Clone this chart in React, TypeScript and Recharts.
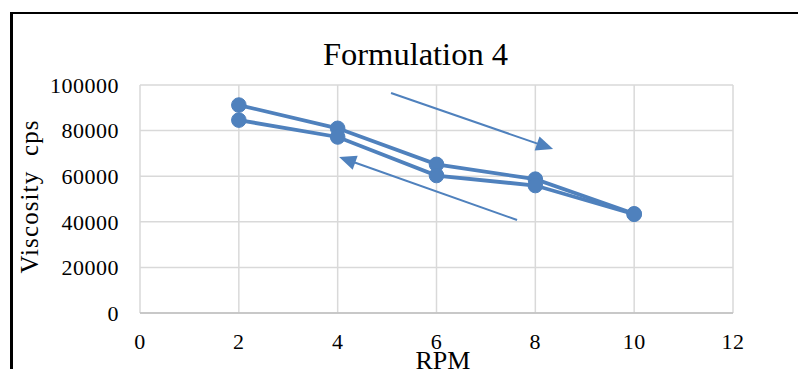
import React from 'react';
import { LineChart, Line, XAxis, YAxis, CartesianGrid, ReferenceLine } from 'recharts';

const rpm = [2, 4, 6, 8, 10];
const viscosityUp = [91200, 81000, 65200, 58700, 43500];
const viscosityDown = [84600, 77200, 60300, 55900, 43300];
const xTicks = [0, 2, 4, 6, 8, 10, 12];
const yTicks = [0, 20000, 40000, 60000, 80000, 100000];
const arrowUp = [{ x: 5.08, y: 96500 }, { x: 8.36, y: 71900 }];
const arrowDown = [{ x: 7.63, y: 40800 }, { x: 4.03, y: 68400 }];

const data = rpm.map((r, i) => ({ rpm: r, up: viscosityUp[i], down: viscosityDown[i] }));

const COLOR = '#4f81bd';
const FONT = 'Liberation Serif, Times New Roman, serif';

const Arrow = (p: any) => {
  const { x1, y1, x2, y2 } = p;
  if ([x1, y1, x2, y2].some((v) => typeof v !== 'number' || isNaN(v))) return null;
  const dx = x2 - x1;
  const dy = y2 - y1;
  const len = Math.sqrt(dx * dx + dy * dy);
  const ux = dx / len;
  const uy = dy / len;
  const hl = 17;
  const hw = 7.5;
  const bx = x2 - ux * hl;
  const by = y2 - uy * hl;
  const pts = `${x2},${y2} ${bx - uy * hw},${by + ux * hw} ${bx + uy * hw},${by - ux * hw}`;
  return (
    <g>
      <line x1={x1} y1={y1} x2={bx + ux * 2} y2={by + uy * 2} stroke={COLOR} strokeWidth={2} />
      <polygon points={pts} fill={COLOR} />
    </g>
  );
};

const YLabel = (props: any) => {
  const vb = props.viewBox || {};
  const cy = (vb.y ?? 85) + (vb.height ?? 228) / 2 - 2.5;
  const x = 38;
  return (
    <text
      x={x}
      y={cy}
      transform={`rotate(-90 ${x} ${cy})`}
      textAnchor="middle"
      fontFamily={FONT}
      fontSize={25}
      letterSpacing={1.1}
      fill="#000"
      style={{ whiteSpace: 'pre' }}
    >
      {'Viscosity  cps'}
    </text>
  );
};

const XLabelAndTitle = (props: any) => {
  const vb = props.viewBox || {};
  const mid = (vb.x ?? 140) + (vb.width ?? 593) / 2;
  return (
    <g>
      <text x={mid + 6.5} y={369} textAnchor="middle" fontFamily={FONT} fontSize={26} fill="#000">
        RPM
      </text>
      <text x={mid - 21} y={65} textAnchor="middle" fontFamily={FONT} fontSize={32.5} fill="#000">
        Formulation 4
      </text>
    </g>
  );
};

export default function App() {
  return (
    <div style={{ position: 'relative', width: 798, height: 361 }}>
      <div
        style={{
          position: 'absolute',
          left: -8,
          top: -8,
          width: 806,
          height: 369,
          overflow: 'hidden',
          background: '#fff',
        }}
      >
        <div
          style={{
            position: 'absolute',
            left: 10,
            top: 12,
            width: 900,
            height: 500,
            borderLeft: '3px solid #000',
            borderTop: '2px solid #000',
          }}
        />
        <div style={{ position: 'absolute', left: 0, top: 0 }}>
          <LineChart
            width={806}
            height={369}
            data={data}
            margin={{ top: 85, right: 73, left: 10, bottom: 6 }}
          >
            <CartesianGrid stroke="#d9d9d9" strokeWidth={1.5} />
            <XAxis
              dataKey="rpm"
              type="number"
              domain={[0, 12]}
              ticks={xTicks}
              height={50}
              tickLine={false}
              tickSize={6}
              tickMargin={14}
              axisLine={{ stroke: '#bfbfbf', strokeWidth: 1.5 }}
              tick={{ fontFamily: FONT, fontSize: 22, fill: '#000', letterSpacing: 0.5 }}
              label={<XLabelAndTitle />}
            />
            <YAxis
              type="number"
              domain={[0, 100000]}
              ticks={yTicks}
              width={130}
              tickLine={false}
              tickSize={6}
              tickMargin={15}
              axisLine={false}
              tick={{ fontFamily: FONT, fontSize: 22, fill: '#000', letterSpacing: 0.5 }}
              label={<YLabel />}
            />
            <Line
              dataKey="up"
              name="Increasing RPM"
              stroke={COLOR}
              strokeWidth={3.8}
              dot={{ r: 7.3, fill: COLOR, stroke: COLOR, strokeWidth: 1 }}
              activeDot={false}
              isAnimationActive={false}
            />
            <Line
              dataKey="down"
              name="Decreasing RPM"
              stroke={COLOR}
              strokeWidth={3.8}
              dot={{ r: 7.3, fill: COLOR, stroke: COLOR, strokeWidth: 1 }}
              activeDot={false}
              isAnimationActive={false}
            />
            <ReferenceLine
              segment={arrowUp}
              ifOverflow="visible"
              shape={(p: any) => <Arrow {...p} />}
            />
            <ReferenceLine
              segment={arrowDown}
              ifOverflow="visible"
              shape={(p: any) => <Arrow {...p} />}
            />
          </LineChart>
        </div>
      </div>
    </div>
  );
}
